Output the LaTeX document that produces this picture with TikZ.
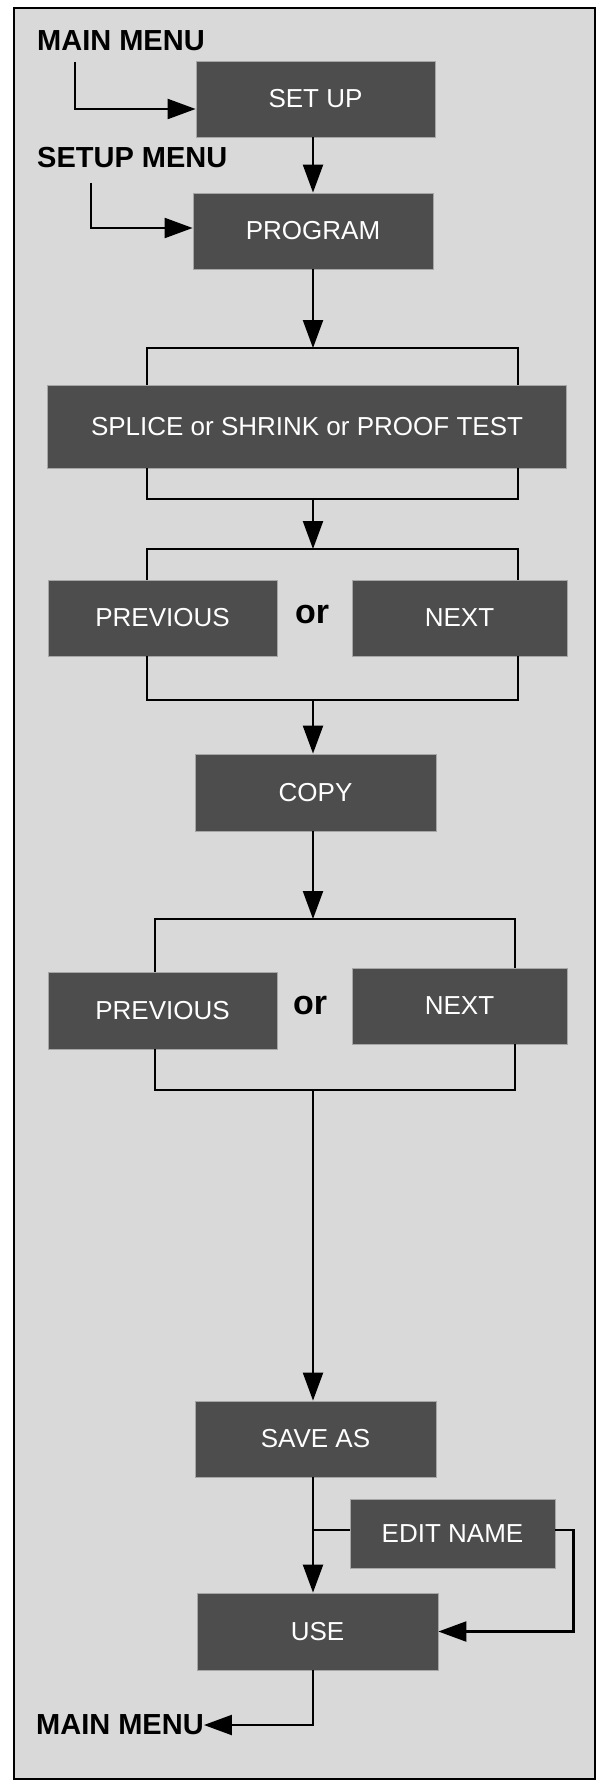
\documentclass[tikz,border=0pt]{standalone}
\usepackage{fontspec}
\setmainfont{Liberation Sans}
\usepackage{xcolor}
\usepackage{tikz}
\usetikzlibrary{arrows.meta}
\definecolor{boxgray}{HTML}{4D4D4D}
\definecolor{panelgray}{HTML}{D9D9D9}

\begin{document}
\begin{tikzpicture}[x=1pt, y=-1pt,
  menubox/.style={fill=boxgray, draw=gray!70, line width=0.8pt, text=white,
    minimum height=76pt, inner sep=0pt, font=\fontsize{26}{31}\selectfont},
  lbl/.style={inner sep=0pt, font=\bfseries\fontsize{29}{34}\selectfont},
  orlbl/.style={inner sep=0pt, font=\bfseries\fontsize{34}{40}\selectfont},
  line/.style={line width=2.2pt},
  arr/.style={line width=2.2pt, -{Triangle[length=28pt,width=20pt]}}]

% Frame
\useasboundingbox (0,0) rectangle (604,1787);
\draw[line width=2.5pt, fill=panelgray] (14,8) rectangle (595,1779);

% Menu labels
\node[lbl, anchor=west] (mainin) at (37,41) {MAIN MENU};
\node[lbl, anchor=west] (setupmenu) at (37,157.5) {SETUP MENU};
\node[lbl, anchor=west] (mainout) at (36,1725) {MAIN MENU};

% Boxes
\node[menubox, minimum width=239pt] (setup) at (315.5,99) {SET UP};
\node[menubox, minimum width=240pt] (program) at (313,231) {PROGRAM};
\node[menubox, minimum width=519pt, minimum height=83pt] (splice) at (307,426.5) {SPLICE or SHRINK or PROOF TEST};
\node[menubox, minimum width=229pt] (prevA) at (162.5,618) {PREVIOUS};
\node[menubox, minimum width=215pt] (nextA) at (459.5,618) {NEXT};
\node[orlbl] (orA) at (312,615) {or};
\node[menubox, minimum width=241pt, minimum height=77pt] (copy) at (315.5,792.5) {COPY};
\node[menubox, minimum width=229pt, minimum height=77pt] (prevB) at (162.5,1010.5) {PREVIOUS};
\node[menubox, minimum width=215pt] (nextB) at (459.5,1006) {NEXT};
\node[orlbl] (orB) at (310,1005) {or};
\node[menubox, minimum width=241pt] (saveas) at (315.5,1439) {SAVE AS};
\node[menubox, minimum width=205pt, minimum height=69pt] (editname) at (452.5,1533.5) {EDIT NAME};
\node[menubox, minimum width=241pt, minimum height=77pt] (use) at (317.5,1631.5) {USE};

% Connector points
\coordinate (col) at (313,0);
\coordinate (mm1) at (75,62);
\coordinate (sm1) at (91,183);
\coordinate (b1top) at (313,348);
\coordinate (b1bot) at (313,499);
\coordinate (b2top) at (313,549);
\coordinate (b2bot) at (313,700);
\coordinate (b3top) at (313,919);
\coordinate (b3bot) at (313,1090);
\coordinate (ej) at (313,1530);

% Brackets
\draw[line] (147,385) |- (518,348) -- (518,385);
\draw[line] (147,468) |- (518,499) -- (518,468);
\draw[line] (147,580) |- (518,549) -- (518,580);
\draw[line] (147,656) |- (518,700) -- (518,656);
\draw[line] (155,972) |- (515,919) -- (515,968);
\draw[line] (155,1049) |- (515,1090) -- (515,1044);

% Arrows
\draw[arr] (mm1) |- ([yshift=-10pt]setup.west);
\draw[arr] (sm1) |- ([yshift=3pt]program.west);
\draw[arr] (setup.south -| col) -- (program.north -| col);
\draw[arr] (program.south -| col) -- (b1top);
\draw[arr] (b1bot) -- (b2top);
\draw[arr] (b2bot) -- (copy.north -| col);
\draw[arr] (copy.south -| col) -- (b3top);
\draw[arr] (b3bot) -- (saveas.north -| col);
\draw[arr] (saveas.south -| col) -- (use.north -| col);
\draw[line] (editname.west |- ej) -- (ej);
\draw[arr] (editname.east |- ej) -- ++(18,0) |- (use.east);
\draw[arr] (use.south -| col) |- (mainout.east);
\end{tikzpicture}
\end{document}
